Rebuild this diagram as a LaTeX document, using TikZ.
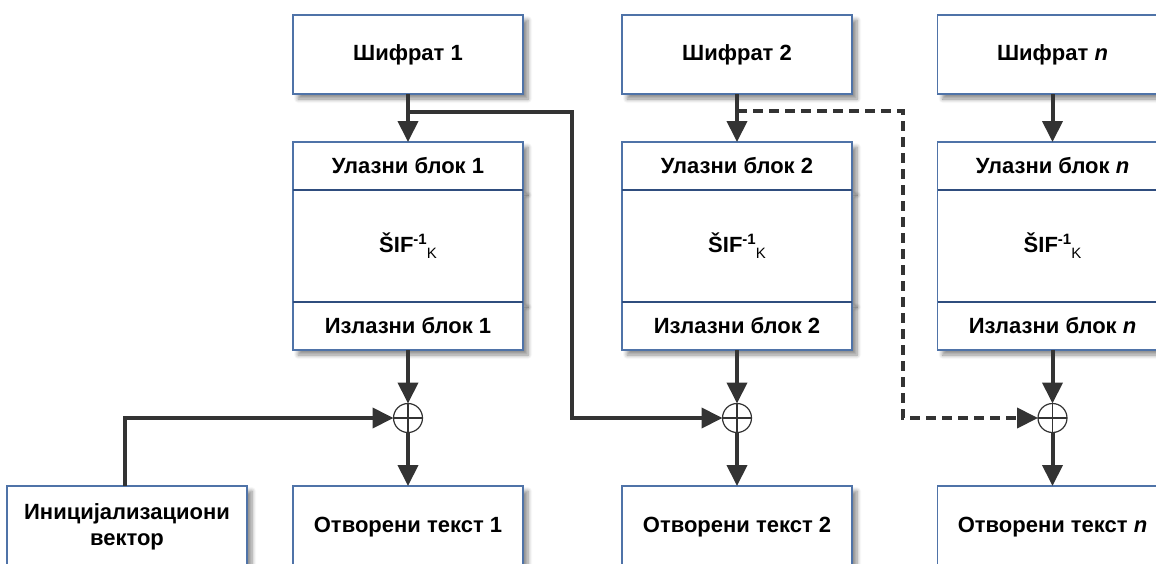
\documentclass[tikz,border=0pt]{standalone}
\usepackage{fontspec}
\setmainfont{Liberation Sans}
\usetikzlibrary{arrows.meta,positioning,shadows.blur}
\definecolor{boxblue}{HTML}{4F73A8}
\definecolor{divblue}{HTML}{2F4D7E}
\definecolor{linegray}{HTML}{333333}
\newcommand{\sifk}{ŠIF\raisebox{0.7ex}{\fontsize{7.5}{8}\selectfont -1}\raisebox{-0.5ex}{\fontsize{7.5}{8}\selectfont\mdseries K}}

\begin{document}
\begin{tikzpicture}[x=0.5pt,y=-0.5pt,font=\fontsize{11}{13}\selectfont\bfseries,
box/.style={draw=boxblue,line width=0.8pt,fill=white,minimum width=115pt,align=center,inner sep=2pt,outer sep=0pt,blur shadow={shadow xshift=2.5pt,shadow yshift=-2.5pt,shadow blur radius=2pt,shadow blur steps=6,shadow opacity=45}},
cbox/.style={box,minimum height=39.5pt},
hbox/.style={box,minimum height=24pt},
mbox/.style={box,minimum height=56pt},
pbox/.style={box,minimum height=41pt},
div/.style={divblue,line width=1pt},
arr/.style={-{Triangle[length=10.5pt,width=10pt]},line width=2pt,linegray},
dsh/.style={arr,dash pattern=on 5pt off 3pt},
xor/.style={circle,draw=linegray,line width=0.6pt,minimum size=14.5pt,inner sep=0pt,outer sep=0pt,fill=white,path picture={\draw[linegray,line width=0.6pt] (path picture bounding box.north)--(path picture bounding box.south) (path picture bounding box.west)--(path picture bounding box.east);}}]
\clip (0,0) rectangle (1156,563);
% column 1
\node[cbox] (ct1) at (408,54.5) {Шифрат 1};
\node[hbox] (in1) at (408,166) {Улазни блок 1};
\node[mbox] (sif1) at (408,246) {\sifk};
\node[hbox] (out1) at (408,326) {Излазни блок 1};
\node[xor] (xor1) at (408,418) {};
\node[pbox] (pt1) at (408,527) {Отворени текст 1};
\node[pbox,minimum width=120pt] (iv) at (127,527) {Иницијализациони\\вектор};
% column 2
\node[cbox] (ct2) at (737,54.5) {Шифрат 2};
\node[hbox] (in2) at (737,166) {Улазни блок 2};
\node[mbox] (sif2) at (737,246) {\sifk};
\node[hbox] (out2) at (737,326) {Излазни блок 2};
\node[xor] (xor2) at (737,418) {};
\node[pbox] (pt2) at (737,527) {Отворени текст 2};
% column n
\node[cbox] (ctn) at (1052.5,54.5) {Шифрат \textit{n}};
\node[hbox] (inn) at (1052.5,166) {Улазни блок \textit{n}};
\node[mbox] (sifn) at (1052.5,246) {\sifk};
\node[hbox] (outn) at (1052.5,326) {Излазни блок \textit{n}};
\node[xor] (xorn) at (1052.5,418) {};
\node[pbox] (ptn) at (1052.5,527) {Отворени текст \textit{n}};
% block dividers
\foreach \c in {1,2,n}{
  \draw[div] (in\c.south west)--(in\c.south east);
  \draw[div] (out\c.north west)--(out\c.north east);
}
\coordinate (br1) at (408,112);
\coordinate (turn1) at (572,112);
\coordinate (br2) at (737,111);
\coordinate (turn2) at (903,111);
\foreach \c in {1,2,n}{
  \draw[arr] (ct\c)--(in\c);
  \draw[arr] (out\c)--(xor\c);
  \draw[arr] (xor\c)--(pt\c);
}
\draw[arr] (iv.north-|125,0)|-(xor1);
\draw[arr] (br1)--(turn1)|-(xor2);
\draw[dsh] (br2)--(turn2)|-(xorn);
\end{tikzpicture}
\end{document}
